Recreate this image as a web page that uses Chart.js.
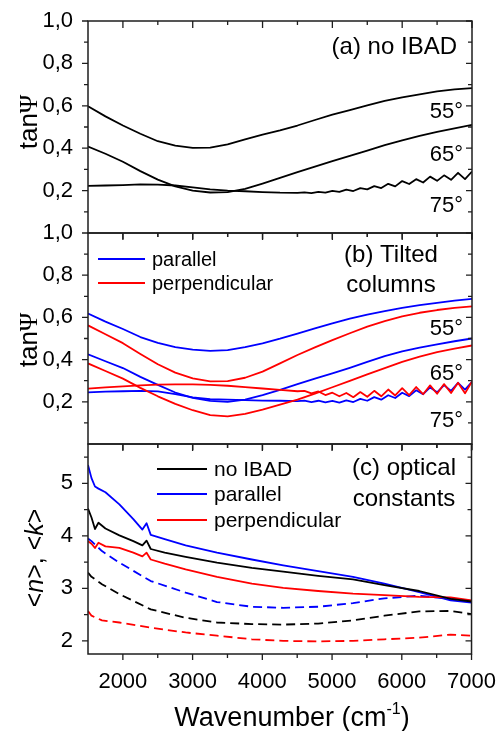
<!DOCTYPE html>
<html><head><meta charset="utf-8">
<script src="https://cdn.jsdelivr.net/npm/chart.js@4.4.1/dist/chart.umd.min.js"></script>
<style>
html,body{margin:0;padding:0;background:#fff;}
#wrap{position:relative;width:503px;height:731px;}
canvas{position:absolute;left:0;top:0;}
</style></head><body>
<div id="wrap">
<canvas id="ca" width="503" height="731"></canvas>
<canvas id="cb" width="503" height="731"></canvas>
<canvas id="cc" width="503" height="731"></canvas>
</div>
<script>
// ---------- data ----------
const wn = [1500,1750,2000,2250,2500,2750,3000,3250,3500,3750,4000,4250,4500,4750,5000,5250,5500,5750,6000,6250,6500,6750,7000];
const wnNoisy = [1500,1750,2000,2250,2500,2750,3000,3250,3500,3750,4000,4250,4500,
  4600,4700,4800,4900,5000,5100,5200,5300,5400,5500,5600,5700,5800,5900,6000,6100,6200,6300,6400,6500,6600,6700,6800,6900,7000];

// (a) no IBAD, tanPsi
const a55 = [0.598,0.550,0.507,0.468,0.433,0.412,0.402,0.403,0.418,0.442,0.464,0.484,0.507,0.533,0.558,0.580,0.602,0.623,0.640,0.654,0.668,0.677,0.683];
const a65 = [0.408,0.374,0.336,0.292,0.252,0.220,0.200,0.191,0.193,0.208,0.233,0.260,0.287,0.313,0.339,0.364,0.389,0.414,0.437,0.458,0.477,0.494,0.510];
const a75 = [0.222,0.224,0.226,0.229,0.228,0.224,0.215,0.206,0.200,0.197,0.193,0.190,0.189,
  0.192,0.188,0.194,0.190,0.199,0.194,0.205,0.198,0.212,0.206,0.221,0.212,0.232,0.220,0.245,0.231,0.254,0.238,0.266,0.246,0.272,0.251,0.284,0.254,0.290];

// (b) tilted columns, tanPsi
const b55par  = [0.618,0.580,0.545,0.507,0.479,0.459,0.447,0.441,0.445,0.459,0.477,0.499,0.523,0.548,0.572,0.594,0.613,0.630,0.645,0.658,0.669,0.679,0.688];
const b55perp = [0.562,0.520,0.478,0.427,0.378,0.338,0.311,0.297,0.298,0.314,0.343,0.382,0.422,0.458,0.492,0.525,0.556,0.582,0.605,0.622,0.635,0.645,0.652];
const b65par  = [0.425,0.392,0.360,0.318,0.280,0.244,0.219,0.204,0.200,0.210,0.232,0.257,0.284,0.310,0.335,0.361,0.389,0.416,0.439,0.457,0.472,0.487,0.500];
const b65perp = [0.382,0.346,0.310,0.266,0.226,0.190,0.160,0.137,0.131,0.143,0.163,0.187,0.210,0.239,0.269,0.299,0.330,0.360,0.389,0.414,0.435,0.452,0.467];
const b75par  = [0.245,0.248,0.250,0.252,0.249,0.236,0.221,0.212,0.210,0.208,0.206,0.205,0.203,
  0.206,0.199,0.205,0.197,0.204,0.196,0.207,0.199,0.214,0.205,0.222,0.210,0.231,0.218,0.243,0.227,0.255,0.236,0.268,0.245,0.279,0.252,0.290,0.258,0.294];
const b75perp = [0.262,0.268,0.273,0.278,0.281,0.283,0.283,0.280,0.276,0.270,0.263,0.257,0.250,
  0.252,0.240,0.249,0.232,0.243,0.226,0.242,0.222,0.246,0.224,0.252,0.226,0.258,0.230,0.265,0.232,0.270,0.236,0.278,0.238,0.284,0.242,0.290,0.240,0.296];

// (c) optical constants
const wnC  = [1500,1550,1600,1650,1750,1950,2150,2280,2340,2400,2600,2900,3350,3850,4300,4800,5300,5750,6250,6700,7000];
const nNoIbad = [4.52,4.35,4.13,4.25,4.14,4.01,3.90,3.82,3.91,3.75,3.68,3.60,3.49,3.39,3.32,3.24,3.17,3.06,2.95,2.80,2.75];
const nPar    = [5.35,5.10,4.94,4.90,4.83,4.60,4.32,4.12,4.24,4.02,3.94,3.82,3.68,3.55,3.44,3.33,3.22,3.09,2.93,2.77,2.73];
const nPerp   = [3.90,3.85,3.77,3.87,3.80,3.77,3.68,3.61,3.68,3.55,3.47,3.36,3.22,3.09,3.01,2.95,2.90,2.87,2.84,2.83,2.77];
const wnK  = [1500,1550,1700,1950,2400,2900,3350,3850,4300,4800,5300,5750,6250,6700,7000];
const kNoIbad = [3.30,3.22,3.08,2.89,2.60,2.44,2.35,2.32,2.31,2.33,2.39,2.48,2.56,2.57,2.51];
const kPar    = [3.95,3.90,3.71,3.49,3.14,2.92,2.74,2.65,2.63,2.65,2.72,2.81,2.86,2.80,2.76];
const kPerp   = [2.57,2.48,2.39,2.35,2.25,2.16,2.10,2.03,2.00,1.99,2.00,2.03,2.06,2.12,2.10];

// ticks
const xMajor = [2000,3000,4000,5000,6000,7000];
const xMinor = [2500,3500,4500,5500,6500];
const tanTicks = [0.2,0.4,0.6,0.8,1.0];
const tanMinor = [0.1,0.3,0.5,0.7,0.9];
const nkTicks = [2,3,4,5];
const nkMinor = [2.5,3.5,4.5,5.5];

// ---------- helpers ----------
const SANS = '"Liberation Sans", Arial, sans-serif';
const BLACK = '#000000', BLUE = '#0000ff', RED = '#ff0000';
const pts = (xs, ys) => xs.map((x, i) => ({x: x, y: ys[i]}));
const line = (xs, ys, color, dash) => ({
  data: pts(xs, ys), borderColor: color, borderWidth: 1.8,
  borderDash: dash ? [9, 5] : [], pointRadius: 0, fill: false, tension: 0,
  borderJoinStyle: 'round'
});
const comma = v => v.toFixed(1).replace('.', ',');

function drawRich(ctx, pieces, x, y, rotate) {
  ctx.save();
  ctx.translate(x, y);
  if (rotate) ctx.rotate(-Math.PI / 2);
  ctx.textBaseline = 'alphabetic';
  ctx.textAlign = 'left';
  let total = 0;
  pieces.forEach(p => { ctx.font = p.font; p.w = ctx.measureText(p.t).width; total += p.w; });
  let cx = -total / 2;
  pieces.forEach(p => { ctx.font = p.font; ctx.fillStyle = '#000'; ctx.fillText(p.t, cx, p.dy || 0); cx += p.w; });
  ctx.restore();
}

const framePlugin = {
  id: 'frame',
  afterDatasetsDraw(chart, args, o) {
    const {ctx, chartArea: a} = chart;
    const xs = chart.scales.x, ys = chart.scales.y;
    ctx.save();
    ctx.strokeStyle = '#1e1e1e';
    ctx.lineWidth = 1.5;
    ctx.strokeRect(a.left, a.top, a.right - a.left, a.bottom - a.top);
    ctx.lineWidth = 1.3;
    ctx.beginPath();
    const t = (x1, y1, x2, y2) => { ctx.moveTo(x1, y1); ctx.lineTo(x2, y2); };
    xMajor.forEach(v => { const p = xs.getPixelForValue(v); t(p, a.top, p, a.top + 7); t(p, a.bottom, p, a.bottom + 6); });
    xMinor.forEach(v => { const p = xs.getPixelForValue(v); t(p, a.top, p, a.top + 4); t(p, a.bottom, p, a.bottom + 4); });
    o.yMajor.forEach(v => { const p = ys.getPixelForValue(v); t(a.left - 6, p, a.left, p); t(a.right, p, a.right - 6, p); });
    o.yMinor.forEach(v => { const p = ys.getPixelForValue(v); t(a.left - 4, p, a.left, p); t(a.right, p, a.right - 4, p); });
    ctx.stroke();

    (o.texts || []).forEach(s => {
      ctx.font = s.size + 'px ' + SANS;
      ctx.fillStyle = '#000';
      ctx.textAlign = s.align || 'left';
      ctx.textBaseline = 'alphabetic';
      ctx.fillText(s.t, s.x, s.y);
    });
    (o.legend || []).forEach(l => {
      ctx.strokeStyle = l.color; ctx.lineWidth = 1.8; ctx.setLineDash([]);
      ctx.beginPath(); ctx.moveTo(l.x1, l.y); ctx.lineTo(l.x2, l.y); ctx.stroke();
      ctx.font = l.size + 'px ' + SANS; ctx.fillStyle = '#000';
      ctx.textAlign = 'left'; ctx.textBaseline = 'middle';
      ctx.fillText(l.label, l.x2 + 7, l.y + 1);
    });
    (o.rich || []).forEach(r => drawRich(ctx, r.pieces, r.x, r.y, r.rotate));
    ctx.restore();
  }
};

function makeChart(id, datasets, yMin, yMax, yTicks, pad, o, showX) {
  return new Chart(document.getElementById(id), {
    type: 'line',
    data: { datasets: datasets },
    plugins: [framePlugin],
    options: {
      responsive: false, animation: false, devicePixelRatio: 1,
      layout: { padding: pad },
      plugins: { legend: { display: false }, tooltip: { enabled: false }, frame: o },
      scales: {
        x: {
          type: 'linear', min: 1500, max: 7000, display: showX,
          grid: { display: false }, border: { display: false },
          afterBuildTicks: s => { s.ticks = xMajor.map(v => ({value: v})); },
          afterFit: s => { s.height = showX ? 77 : 0; },
          ticks: { color: '#000', padding: 7, maxRotation: 0, font: { family: SANS, size: 22 }, callback: v => String(v) }
        },
        y: {
          type: 'linear', min: yMin, max: yMax,
          grid: { display: false }, border: { display: false },
          afterBuildTicks: s => { s.ticks = yTicks.map(v => ({value: v})); },
          afterFit: s => { s.width = 88; },
          ticks: { color: '#000', padding: 7, font: { family: SANS, size: 22 },
                   callback: v => (yMax > 2 ? String(v) : comma(v)) }
        }
      }
    }
  });
}

const psiTitle = (y) => ({ x: 37, y: y, rotate: true, pieces: [
  { t: 'tan', font: '26px ' + SANS },
  { t: 'Ψ', font: '25px "Liberation Serif", "DejaVu Serif", serif' } ] });

// (a)
makeChart('ca', [
  line(wn, a55, BLACK), line(wn, a65, BLACK), line(wnNoisy, a75, BLACK)
], 0, 1, tanTicks, { left: 0, right: 31, top: 21, bottom: 498 }, {
  yMajor: tanTicks, yMinor: tanMinor,
  texts: [
    { t: '(a) no IBAD', x: 457, y: 54, size: 24, align: 'right' },
    { t: '55°', x: 463, y: 118, size: 22, align: 'right' },
    { t: '65°', x: 463, y: 161, size: 22, align: 'right' },
    { t: '75°', x: 463, y: 212, size: 22, align: 'right' }
  ],
  rich: [ psiTitle(122) ]
}, false);

// (b)
makeChart('cb', [
  line(wnNoisy, b75perp, RED), line(wn, b65perp, RED), line(wn, b55perp, RED),
  line(wnNoisy, b75par, BLUE), line(wn, b65par, BLUE), line(wn, b55par, BLUE)
], 0, 1, tanTicks, { left: 0, right: 31, top: 233, bottom: 287 }, {
  yMajor: tanTicks, yMinor: tanMinor,
  texts: [
    { t: '(b) Tilted', x: 391, y: 262, size: 24, align: 'center' },
    { t: 'columns', x: 391, y: 292, size: 24, align: 'center' },
    { t: '55°', x: 463, y: 335, size: 22, align: 'right' },
    { t: '65°', x: 463, y: 380, size: 22, align: 'right' },
    { t: '75°', x: 463, y: 427, size: 22, align: 'right' }
  ],
  legend: [
    { color: BLUE, x1: 98, x2: 145, y: 259, label: 'parallel', size: 20 },
    { color: RED, x1: 98, x2: 145, y: 283, label: 'perpendicular', size: 20 }
  ],
  rich: [ psiTitle(340) ]
}, false);

// (c)
makeChart('cc', [
  line(wnC, nNoIbad, BLACK), line(wnC, nPerp, RED), line(wnC, nPar, BLUE),
  line(wnK, kNoIbad, BLACK, true), line(wnK, kPar, BLUE, true), line(wnK, kPerp, RED, true)
], 1.75, 5.75, nkTicks, { left: 0, right: 31, top: 444, bottom: 0 }, {
  yMajor: nkTicks, yMinor: nkMinor,
  texts: [
    { t: '(c) optical', x: 404, y: 475, size: 24, align: 'center' },
    { t: 'constants', x: 404, y: 506, size: 24, align: 'center' }
  ],
  legend: [
    { color: BLACK, x1: 157, x2: 207, y: 469, label: 'no IBAD', size: 21 },
    { color: BLUE, x1: 157, x2: 207, y: 494, label: 'parallel', size: 21 },
    { color: RED, x1: 157, x2: 207, y: 520, label: 'perpendicular', size: 21 }
  ],
  rich: [
    { x: 43, y: 558, rotate: true, pieces: [
      { t: '<', font: '25px ' + SANS }, { t: 'n', font: 'italic 25px ' + SANS },
      { t: '>, <', font: '25px ' + SANS }, { t: 'k', font: 'italic 25px ' + SANS },
      { t: '>', font: '25px ' + SANS } ] },
    { x: 292, y: 726, rotate: false, pieces: [
      { t: 'Wavenumber (cm', font: '27px ' + SANS },
      { t: '-1', font: '16px ' + SANS, dy: -12 },
      { t: ')', font: '27px ' + SANS } ] }
  ]
}, true);
</script>
</body></html>
